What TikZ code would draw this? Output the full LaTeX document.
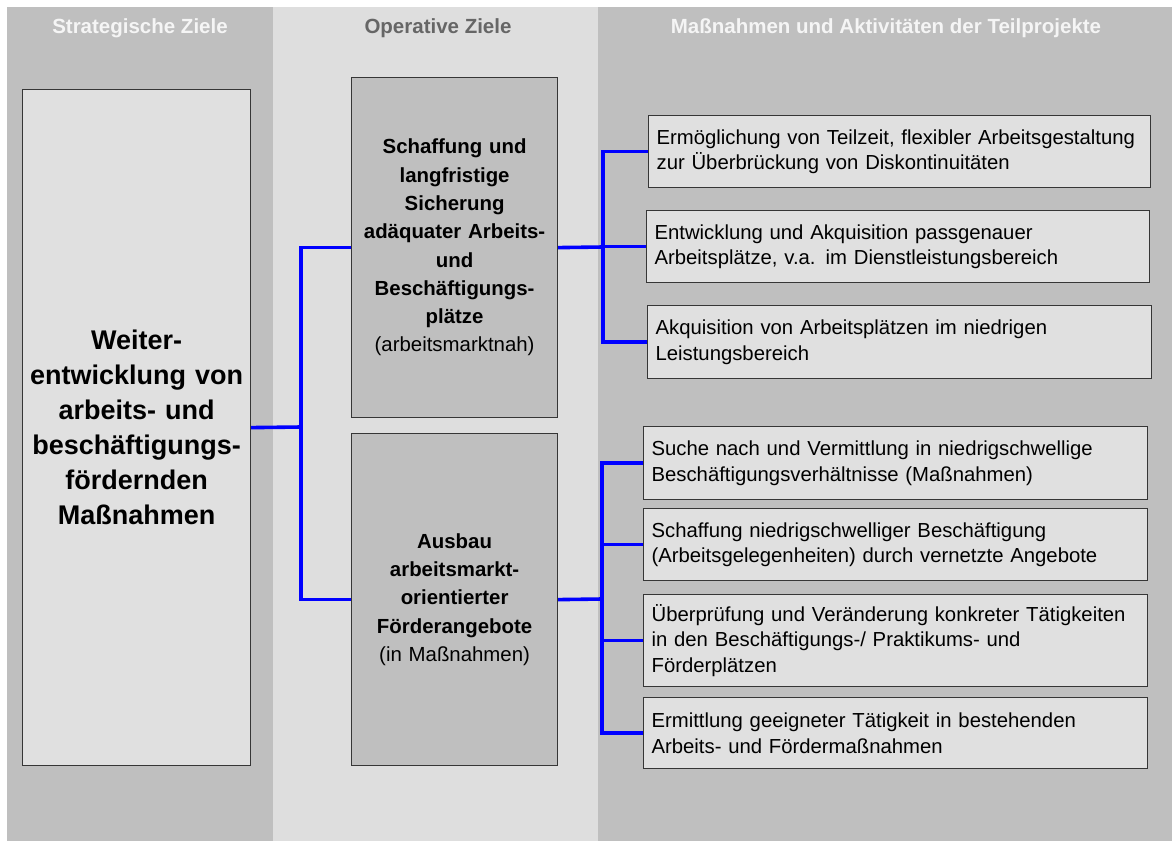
\documentclass[tikz,border=0pt]{standalone}
\usepackage{fontspec}
\setmainfont{Liberation Sans}
\begin{document}
\definecolor{colDark}{HTML}{BFBFBF}
\definecolor{colLight}{HTML}{DEDEDE}
\definecolor{boxFill}{HTML}{E0E0E0}
\definecolor{boxLine}{HTML}{363636}
\definecolor{headGray}{HTML}{666666}
\begin{tikzpicture}[x=1pt,y=-1pt,
  head/.style={anchor=base,font=\bfseries\fontsize{20.5}{24}\selectfont},
  goalbox/.style={draw=boxLine,line width=1.2pt,anchor=north west,align=center,inner xsep=4pt},
  mainbox/.style={goalbox,fill=boxFill,text width=220pt,font=\bfseries\fontsize{27}{35}\selectfont},
  opbox/.style={goalbox,fill=colDark,text width=198pt,font=\fontsize{20.4}{28.3}\selectfont},
  actbox/.style={draw=boxLine,line width=1.2pt,fill=boxFill,anchor=north west,align=left,
    inner xsep=8pt,font=\fontsize{20.3}{25.5}\selectfont},
  conn/.style={draw=blue,line width=3.6pt}]
\useasboundingbox (0,0) rectangle (1172,841);
\fill[white] (0,0) rectangle (1172,841);
% column backgrounds
\fill[colDark] (7,7) rectangle (273,841);
\fill[colLight] (273,7) rectangle (598,841);
\fill[colDark] (598,7) rectangle (1172,841);
% column headings
\node[head,text=white!96!black] (h1) at (140,33) {Strategische Ziele};
\node[head,text=headGray] (h2) at (438,33) {Operative Ziele};
\node[head,text=white!96!black] (h3) at (886,33) {Maßnahmen und Aktivitäten der Teilprojekte};
% strategic goal
\node[mainbox,minimum width=228pt,minimum height=676pt] (big) at (22,89)
  {Weiter-\\entwicklung von\\arbeits- und\\beschäftigungs-\\fördernden\\Maßnahmen};
% operative goals
\node[opbox,minimum width=206pt,minimum height=340pt] (mtop) at (351,77)
  {\textbf{Schaffung und}\\\textbf{langfristige}\\\textbf{Sicherung}\\\textbf{adäquater Arbeits-}\\\textbf{und}\\\textbf{Beschäftigungs-}\\\textbf{plätze}\\(arbeitsmarktnah)};
\node[opbox,minimum width=206pt,minimum height=332pt] (mbot) at (351,433)
  {\textbf{Ausbau}\\\textbf{arbeitsmarkt-}\\\textbf{orientierter}\\\textbf{Förderangebote}\\(in Maßnahmen)};
% activities
\node[actbox,text width=486pt,minimum height=72pt] (r1) at (648,115)
  {Ermöglichung von Teilzeit, flexibler Arbeitsgestaltung\\zur Überbrückung von Diskontinuitäten};
\node[actbox,text width=487pt,minimum height=72pt] (r2) at (646,210)
  {Entwicklung und Akquisition passgenauer\\Arbeitsplätze, v.a. im Dienstleistungsbereich};
\node[actbox,text width=488pt,minimum height=73pt] (r3) at (647,305)
  {Akquisition von Arbeitsplätzen im niedrigen\\Leistungsbereich};
\node[actbox,text width=488pt,minimum height=73pt] (r4) at (643,426)
  {Suche nach und Vermittlung in niedrigschwellige\\Beschäftigungsverhältnisse (Maßnahmen)};
\node[actbox,text width=488pt,minimum height=72pt] (r5) at (643,508)
  {Schaffung niedrigschwelliger Beschäftigung\\(Arbeitsgelegenheiten) durch vernetzte Angebote};
\node[actbox,text width=488pt,minimum height=92pt] (r6) at (643,594)
  {Überprüfung und Veränderung konkreter Tätigkeiten\\in den Beschäftigungs-/ Praktikums- und\\Förderplätzen};
\node[actbox,text width=488pt,minimum height=71pt] (r7) at (643,697)
  {Ermittlung geeigneter Tätigkeit in bestehenden\\Arbeits- und Fördermaßnahmen};
% connectors
\coordinate (busA) at (301,427);
\coordinate (busB) at (603,247);
\coordinate (busC) at (602,599);
\draw[conn] (big.east) -- (busA);
\draw[conn] (mtop.west) -| (busA) |- (mbot.west);
\draw[conn] (mtop.east) -- (busB);
\draw[conn] (r1.west) -| (busB) |- (r3.west);
\draw[conn] (r2.west -| busB) -- (r2.west);
\draw[conn] (mbot.east) -- (busC);
\draw[conn] (r4.west) -| (busC) |- (r7.west);
\draw[conn] (r5.west -| busC) -- (r5.west);
\draw[conn] (r6.west -| busC) -- (r6.west);
\end{tikzpicture}
\end{document}
